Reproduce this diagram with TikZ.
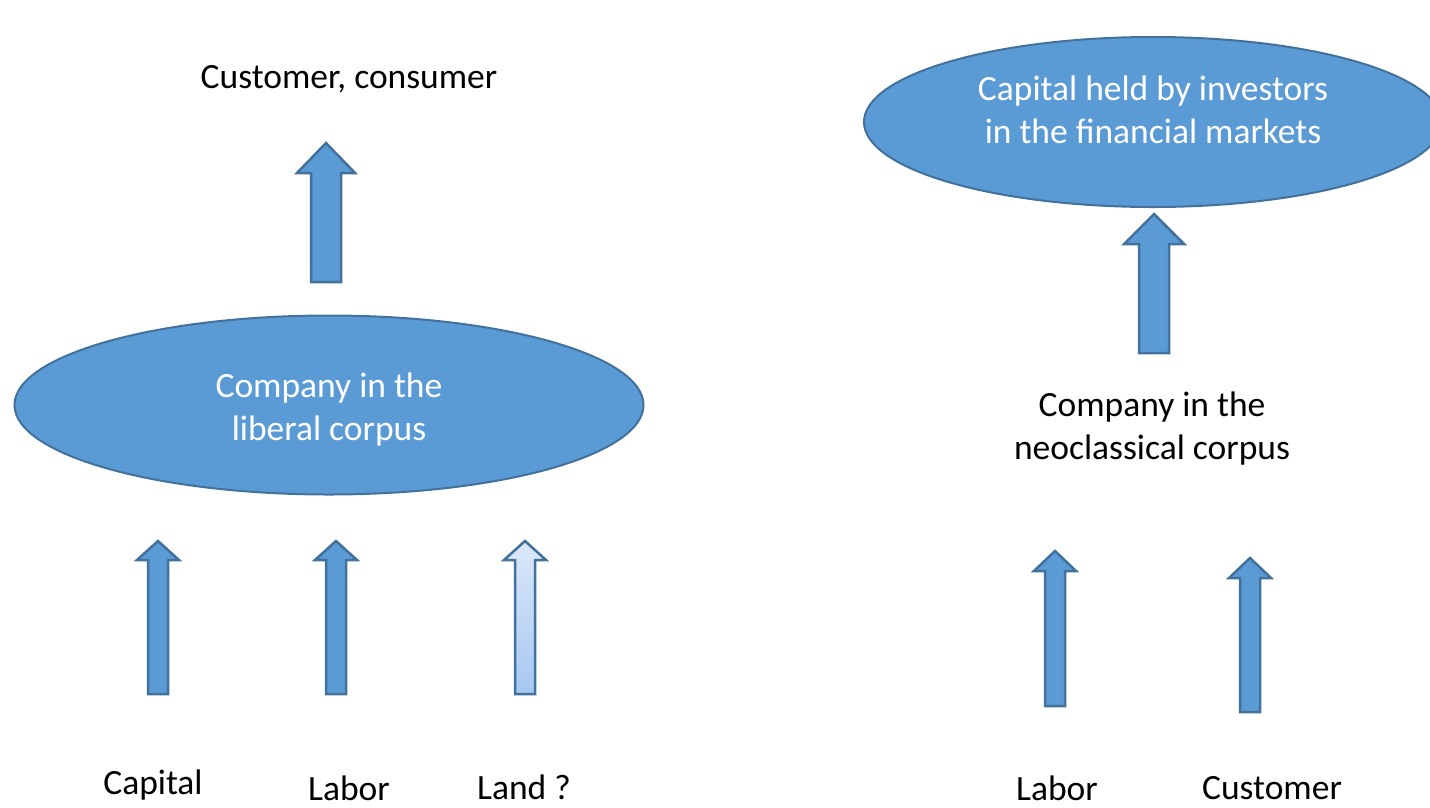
\documentclass[tikz,border=0pt]{standalone}
\usepackage{fontspec}
\setmainfont{Carlito}
\usetikzlibrary{shapes.geometric}
\definecolor{officeblue}{HTML}{5B9BD5}
\definecolor{officeedge}{HTML}{41719C}
\definecolor{landtop}{HTML}{DCE8F8}
\definecolor{landbottom}{HTML}{A6C7F2}
\tikzstyle{blob}=[ellipse,draw=officeedge,fill=officeblue,line width=2pt,inner sep=0pt]
\tikzstyle{blockarrow}=[draw=officeedge,fill=officeblue,line width=2.5pt,line join=miter]
\tikzstyle{caption}=[font=\fontsize{35.5}{43}\selectfont,align=center,inner sep=0pt]

\begin{document}
\begin{tikzpicture}[x=1pt,y=-1pt]
    \useasboundingbox (0,0) rectangle (1430,807);
    \clip (0,0) rectangle (1430,807);

    \node[blob,minimum width=629pt,minimum height=179pt] (liberal) at (329,405) {};
    \node[blob,minimum width=578pt,minimum height=170pt] (markets) at (1153,122) {};

    % block arrows: x / tip / foot / half shaft / half head / head length
    \foreach \ax/\atip/\afoot/\ash/\ahd/\ahl in {326/143/282/15/29/30, 158/541/694/10/21/19, 336/541/694/10/21/19, 1154/214/353/15/30/30, 1055/551/706/10/21/20, 1250/558/712/10/21/20}
        \path[blockarrow] (\ax-\ash,\afoot) -- (\ax-\ash,\atip+\ahl) -- (\ax-\ahd,\atip+\ahl) -- (\ax,\atip) -- (\ax+\ahd,\atip+\ahl) -- (\ax+\ash,\atip+\ahl) -- (\ax+\ash,\afoot) -- cycle;

    % the land arrow is the pale one
    \path[blockarrow,top color=landtop,bottom color=landbottom] (515,694) -- (515,560) -- (504,560) -- (525,541) -- (546,560) -- (535,560) -- (535,694) -- cycle;

    \node[caption,text=white] (liberaltext) at ([yshift=-5pt]liberal.center) {Company in the\\liberal corpus};
    \node[caption,text=white] (marketstext) at ([yshift=12pt]markets.center) {Capital held by investors\\in the financial markets};

    \foreach \pos/\name/\label in {{(349,79)/customer/{Customer, consumer}}, {(1152,429)/neo/{Company in the\\neoclassical corpus}}}
        \node[caption] (\name) at \pos {\label};

    \foreach \pos/\name/\label in {{(153,785)/capital/Capital}, {(349,788)/labor/Labor}, {(524,787)/land/Land ?}, {(1057,788)/laborright/Labor}, {(1272,788)/customerright/Customer}}
        \node[caption] (\name) at \pos {\label};
\end{tikzpicture}
\end{document}
